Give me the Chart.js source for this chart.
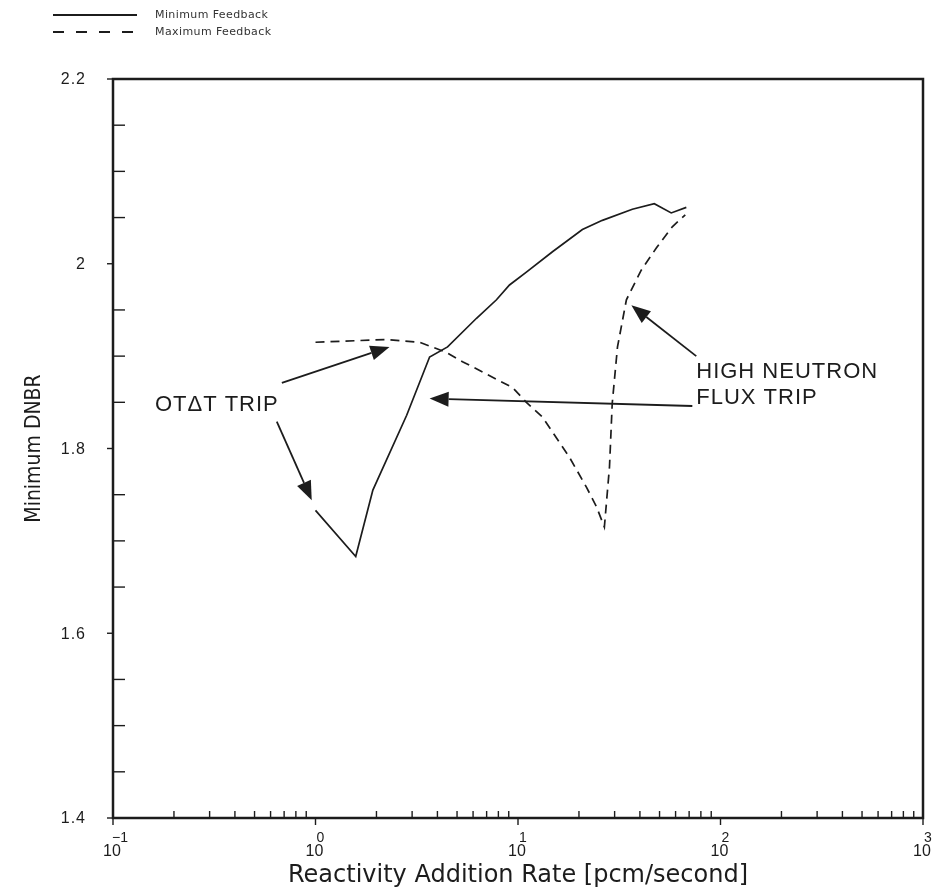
<!DOCTYPE html>
<html>
<head>
<meta charset="utf-8">
<title>Minimum DNBR vs Reactivity Addition Rate</title>
<script src="https://cdn.jsdelivr.net/npm/chart.js@4.4.1/dist/chart.umd.min.js"></script>
<style>
  html, body { margin: 0; padding: 0; background: #fff; }
  #wrap { width: 935px; height: 892px; }
</style>
</head>
<body>
<div id="wrap"><canvas id="dnbr-chart" width="935" height="892"></canvas></div>
<script>
// Minimum feedback case: rate [pcm/s] vs minimum DNBR
const minFbRate = [1.0, 1.58, 1.92, 2.82, 3.66, 4.49, 6.24, 7.83, 9.08, 11.0, 14.8, 20.8, 26.1, 36.7, 47.1, 57.1, 67.8];
const minFbDnbr = [1.733, 1.683, 1.755, 1.836, 1.899, 1.910, 1.941, 1.961, 1.977, 1.991, 2.013, 2.037, 2.047, 2.059, 2.065, 2.055, 2.061];

// Maximum feedback case
const maxFbRate = [1.0, 2.24, 3.27, 4.43, 5.32, 9.4, 11.0, 13.2, 17.9, 21.8, 24.4, 26.7, 28.3, 29.2, 31.0, 34.3, 40.6, 48.2, 57.8, 67.0];
const maxFbDnbr = [1.915, 1.918, 1.915, 1.904, 1.894, 1.866, 1.850, 1.834, 1.791, 1.758, 1.737, 1.715, 1.780, 1.849, 1.910, 1.961, 1.993, 2.017, 2.040, 2.053];

const xTickValues = [0.1, 1, 10, 100, 1000];
const xTickExponents = ['-1', '0', '1', '2', '3'];
const yTickValues = [1.4, 1.6, 1.8, 2.0, 2.2];
const yTickLabels = ['1.4', '1.6', '1.8', '2', '2.2'];

// trip callouts, in data units (rate, DNBR)
const calloutArrows = [
  { from: [0.682, 1.871], to: [2.32, 1.910] },
  { from: [0.644, 1.829], to: [0.958, 1.744] },
  { from: [75.9, 1.900], to: [36.3, 1.955] },
  { from: [72.6, 1.846], to: [3.66, 1.854] }
];
const calloutTexts = [
  { text: 'OT\u0394T TRIP', at: [0.161, 1.847] },
  { text: 'HIGH NEUTRON', at: [75.9, 1.883] },
  { text: 'FLUX TRIP', at: [75.9, 1.855] }
];

const INK = '#1c1c1c';

const toPoints = (xs, ys) => xs.map((v, i) => ({ x: v, y: ys[i] }));

function arrow(ctx, x0, y0, x1, y1) {
  const ang = Math.atan2(y1 - y0, x1 - x0);
  const len = 19, half = 7.5;
  const bx = x1 - len * Math.cos(ang), by = y1 - len * Math.sin(ang);
  ctx.beginPath();
  ctx.moveTo(x0, y0);
  ctx.lineTo(bx, by);
  ctx.stroke();
  ctx.beginPath();
  ctx.moveTo(x1, y1);
  ctx.lineTo(bx + half * Math.sin(ang), by - half * Math.cos(ang));
  ctx.lineTo(bx - half * Math.sin(ang), by + half * Math.cos(ang));
  ctx.closePath();
  ctx.fill();
}

// frame, ticks, tick labels, titles and legend
const axisDecor = {
  id: 'axisDecor',
  afterDraw(chart) {
    const { ctx, chartArea: a, scales: { x, y } } = chart;
    ctx.save();
    ctx.strokeStyle = INK;
    ctx.fillStyle = INK;

    // box
    ctx.lineWidth = 2.5;
    ctx.strokeRect(a.left, a.top, a.right - a.left, a.bottom - a.top);

    // y ticks: majors stick out, minors point in
    ctx.lineWidth = 1.4;
    for (let v = 1.4; v <= 2.2001; v += 0.05) {
      const py = y.getPixelForValue(v);
      const major = yTickValues.some(t => Math.abs(t - v) < 1e-6);
      ctx.beginPath();
      if (major) {
        ctx.moveTo(a.left - 6, py);
        ctx.lineTo(a.left, py);
      } else {
        ctx.moveTo(a.left, py);
        ctx.lineTo(a.left + 12, py);
      }
      ctx.stroke();
    }

    // x ticks: decades stick out, 2..9 point in
    xTickValues.forEach((d, i) => {
      const px = x.getPixelForValue(d);
      ctx.beginPath();
      ctx.moveTo(px, a.bottom);
      ctx.lineTo(px, a.bottom + 7);
      ctx.stroke();
      if (i < xTickValues.length - 1) {
        for (let k = 2; k <= 9; k++) {
          const mx = x.getPixelForValue(d * k);
          ctx.beginPath();
          ctx.moveTo(mx, a.bottom);
          ctx.lineTo(mx, a.bottom - 7);
          ctx.stroke();
        }
      }
    });

    // y tick labels
    ctx.font = '16px "Liberation Sans", Arial, sans-serif';
    ctx.letterSpacing = '1px';
    ctx.textAlign = 'right';
    ctx.textBaseline = 'middle';
    yTickValues.forEach((v, i) => {
      ctx.fillText(yTickLabels[i], a.left - 27, y.getPixelForValue(v) + 1);
    });

    // x tick labels: 10 with raised exponent
    ctx.letterSpacing = '0px';
    ctx.textBaseline = 'alphabetic';
    xTickValues.forEach((d, i) => {
      const px = x.getPixelForValue(d);
      ctx.font = '16px "Liberation Sans", Arial, sans-serif';
      ctx.textAlign = 'center';
      ctx.fillText('10', px - 1, a.bottom + 38);
      ctx.font = '14px "Liberation Sans", Arial, sans-serif';
      ctx.textAlign = 'left';
      ctx.fillText(xTickExponents[i].replace('-', '\u2212'), px + (i === 0 ? -1 : 1), a.bottom + 24);
    });

    // axis titles
    ctx.font = '24px "DejaVu Sans", sans-serif';
    ctx.textAlign = 'center';
    ctx.fillText('Reactivity Addition Rate [pcm/second]', (a.left + a.right) / 2, a.bottom + 64);

    ctx.save();
    ctx.translate(40, (a.top + a.bottom) / 2);
    ctx.rotate(-Math.PI / 2);
    ctx.font = '21px "Liberation Sans Narrow", "DejaVu Sans Condensed", sans-serif';
    ctx.textBaseline = 'alphabetic';
    ctx.fillText('Minimum DNBR', 0, 0);
    ctx.restore();

    // callouts
    ctx.lineWidth = 1.8;
    calloutArrows.forEach(c => {
      arrow(ctx,
        x.getPixelForValue(c.from[0]), y.getPixelForValue(c.from[1]),
        x.getPixelForValue(c.to[0]), y.getPixelForValue(c.to[1]));
    });
    ctx.font = '22px "Liberation Sans", Arial, sans-serif';
    ctx.letterSpacing = '1px';
    ctx.textAlign = 'left';
    ctx.textBaseline = 'middle';
    calloutTexts.forEach(c => {
      ctx.fillText(c.text, x.getPixelForValue(c.at[0]), y.getPixelForValue(c.at[1]));
    });

    // legend, top left
    ctx.letterSpacing = '0.4px';
    ctx.font = '11px "DejaVu Sans", sans-serif';
    ctx.fillStyle = '#333';
    chart.data.datasets.forEach((ds, i) => {
      const ly = 15 + i * 17;
      ctx.lineWidth = 1.8;
      ctx.setLineDash(ds.borderDash && ds.borderDash.length ? [11, 12] : []);
      ctx.beginPath();
      ctx.moveTo(53, ly);
      ctx.lineTo(137, ly);
      ctx.stroke();
      ctx.setLineDash([]);
      ctx.fillText(ds.label, 155, ly);
    });
    ctx.restore();
  }
};

new Chart(document.getElementById('dnbr-chart'), {
  type: 'line',
  data: {
    datasets: [
      {
        label: 'Minimum Feedback',
        data: toPoints(minFbRate, minFbDnbr),
        borderColor: INK,
        borderWidth: 1.7,
        pointRadius: 0,
        tension: 0
      },
      {
        label: 'Maximum Feedback',
        data: toPoints(maxFbRate, maxFbDnbr),
        borderColor: INK,
        borderWidth: 1.7,
        borderDash: [9, 6],
        pointRadius: 0,
        tension: 0
      }
    ]
  },
  options: {
    responsive: false,
    animation: false,
    layout: { padding: { left: 113, right: 12, top: 79, bottom: 74 } },
    scales: {
      x: { type: 'logarithmic', min: 0.1, max: 1000, display: false },
      y: { type: 'linear', min: 1.4, max: 2.2, display: false }
    },
    plugins: {
      legend: { display: false },
      tooltip: { enabled: false }
    }
  },
  plugins: [axisDecor]
});
</script>
</body>
</html>
